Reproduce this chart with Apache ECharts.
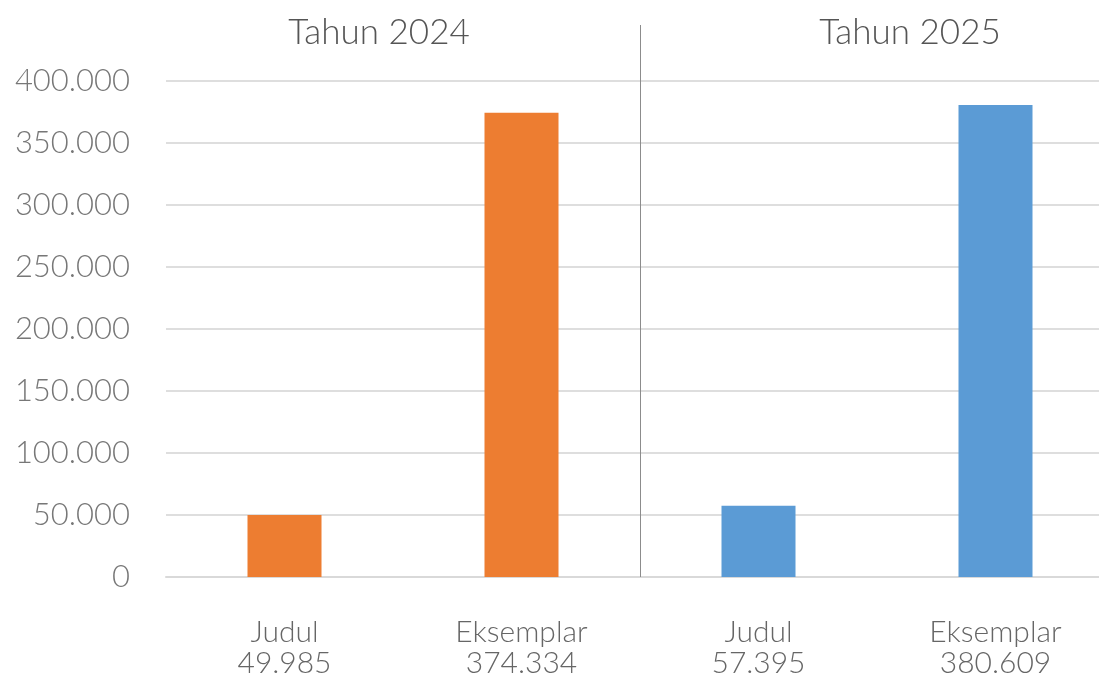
<!DOCTYPE html>
<html>
<head>
<meta charset="utf-8">
<script src="https://cdn.jsdelivr.net/npm/echarts@6/dist/echarts.min.js"></script>
<style>
html,body{margin:0;padding:0;background:#fff;}
#chart{width:1099px;height:679px;}
</style>
</head>
<body>
<div id="chart"></div>
<script>
// ---- data ----
const groups = ['Tahun 2024', 'Tahun 2025'];
const categories = ['Judul', 'Eksemplar', 'Judul', 'Eksemplar'];
const categoryGroup = [0, 0, 1, 1];
const values = [49985, 374334, 57395, 380609];
const groupColors = ['#ED7D31', '#5B9BD5'];
const yTicks = [0, 50000, 100000, 150000, 200000, 250000, 300000, 350000, 400000];

function fmt(n) {
  return String(Math.round(n)).replace(/\B(?=(\d{3})+(?!\d))/g, '.');
}

const FONT = 'Lato';
const chart = echarts.init(document.getElementById('chart'));

const gridTop = 25, gridBottomPx = 577;
const yMaxTick = yTicks[yTicks.length - 1];
// extend axis above the top gridline so the group separator reaches the titles
const yMax = yMaxTick * (gridBottomPx - gridTop) / (gridBottomPx - 81);

chart.setOption({
  backgroundColor: '#ffffff',
  animation: false,
  title: groups.map((g, i) => ({
    text: g,
    left: i === 0 ? 374 : 905,
    top: 10,
    textAlign: 'center',
    textStyle: { fontFamily: FONT, fontSize: 35, fontWeight: 300, color: '#555' }
  })),
  grid: { left: 166, top: gridTop, width: 948, bottom: 679 - gridBottomPx, outerBoundsMode: 'none' },
  xAxis: {
    type: 'category',
    data: categories,
    boundaryGap: true,
    axisLine: { show: true, lineStyle: { color: '#d9d9d9', width: 2 } },
    axisTick: { show: false },
    splitLine: { show: false },
    axisLabel: {
      margin: 40,
      interval: 0,
      formatter: (v, i) => v + '\n' + fmt(values[i]),
      fontFamily: FONT, fontSize: 30, fontWeight: 300, color: '#666', lineHeight: 31
    }
  },
  yAxis: {
    type: 'value',
    min: 0,
    max: yMax,
    interval: 50000,
    axisLine: { show: false },
    axisTick: { show: false },
    splitLine: { show: true, showMaxLine: false, lineStyle: { color: '#dedede', width: 2 } },
    axisLabel: {
      margin: 36,
      showMaxLabel: false,
      formatter: (v) => yTicks.indexOf(v) >= 0 ? fmt(v) : '',
      fontFamily: FONT, fontSize: 31, fontWeight: 300, color: '#777'
    }
  },
  series: [{
    type: 'bar',
    barWidth: 74,
    data: values.map((v, i) => ({ value: v, itemStyle: { color: groupColors[categoryGroup[i]] } }))
  }]
});

// group separator between the last category of group 0 and the first of group 1
const lastOfFirst = categoryGroup.lastIndexOf(0);
const xA = chart.convertToPixel({ xAxisIndex: 0 }, lastOfFirst);
const xB = chart.convertToPixel({ xAxisIndex: 0 }, lastOfFirst + 1);
const yTop = chart.convertToPixel({ yAxisIndex: 0 }, yMax);
const yBot = chart.convertToPixel({ yAxisIndex: 0 }, 0);
const sepX = Math.round((xA + xB) / 2) + 0.5;
chart.setOption({
  graphic: [{
    type: 'line',
    shape: { x1: sepX, y1: yTop, x2: sepX, y2: yBot },
    style: { stroke: '#8c8c8c', lineWidth: 1 },
    z: 10
  }]
});
</script>
</body>
</html>
